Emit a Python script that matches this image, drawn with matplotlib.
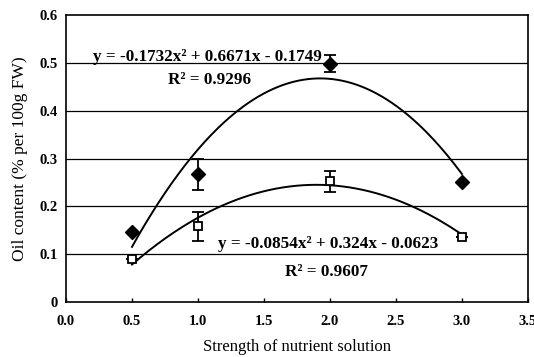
import matplotlib
matplotlib.use("Agg")
import matplotlib.pyplot as plt
import numpy as np

plt.rcParams['font.family'] = ['Liberation Serif', 'DejaVu Serif']

strength = [0.5, 1.0, 2.0, 3.0]
series_a = [0.146, 0.267, 0.498, 0.250]
err_a = [0.0, 0.033, 0.018, 0.0]
series_b = [0.090, 0.158, 0.252, 0.135]
err_b = [0.0, 0.031, 0.022, 0.0]
coef_a = [-0.1732, 0.6671, -0.1749]
coef_b = [-0.0854, 0.324, -0.0623]
eq_a = "y = -0.1732x² + 0.6671x - 0.1749"
r2_a = "R² = 0.9296"
eq_b = "y = -0.0854x² + 0.324x - 0.0623"
r2_b = "R² = 0.9607"
xticks = [0.0, 0.5, 1.0, 1.5, 2.0, 2.5, 3.0, 3.5]
xticklabels = ["0.0", "0.5", "1.0", "1.5", "2.0", "2.5", "3.0", "3.5"]
yticks = [0, 0.1, 0.2, 0.3, 0.4, 0.5, 0.6]
yticklabels = ["0", "0.1", "0.2", "0.3", "0.4", "0.5", "0.6"]

fig = plt.figure(figsize=(5.34, 3.57), dpi=100)
ax = fig.add_axes([0.1236, 0.154, 0.865, 0.804])

for yv in yticks[1:-1]:
    ax.axhline(yv, color='black', lw=0.9, zorder=1)

xs = np.linspace(strength[0], strength[-1], 200)
ax.plot(xs, np.polyval(coef_a, xs), color='black', lw=1.4, zorder=2)
ax.plot(xs, np.polyval(coef_b, xs), color='black', lw=1.4, zorder=2)

ax.errorbar(strength, series_a, yerr=err_a, fmt='D', color='black', ms=7,
            ecolor='black', elinewidth=1.3, capsize=4, capthick=1.3, zorder=3)
ax.errorbar(strength, series_b, yerr=err_b, fmt='s', mfc='white', mec='black',
            mew=1.3, ms=6, ecolor='black', elinewidth=1.3, capsize=4,
            capthick=1.3, zorder=3)

ax.set_xlim(0, 3.5)
ax.set_ylim(0, 0.6)
ax.set_xticks(xticks)
ax.set_xticklabels(xticklabels)
ax.set_yticks(yticks)
ax.set_yticklabels(yticklabels)
ax.tick_params(axis='x', direction='in', length=3, width=1, labelsize=10.5, pad=9)
ax.tick_params(axis='y', length=0, labelsize=10.5, pad=6)
for lab in ax.get_xticklabels() + ax.get_yticklabels():
    lab.set_fontweight('bold')
for s in ax.spines.values():
    s.set_linewidth(1.2)

ax.text(0.205, 0.512, eq_a, fontsize=12.3, fontweight='bold', ha='left', va='center')
ax.text(0.77, 0.464, r2_a, fontsize=12.3, fontweight='bold', ha='left', va='center')
ax.text(1.15, 0.121, eq_b, fontsize=12.3, fontweight='bold', ha='left', va='center')
ax.text(1.66, 0.063, r2_b, fontsize=12.3, fontweight='bold', ha='left', va='center')

ax.set_xlabel("Strength of nutrient solution", fontsize=12, labelpad=8)
ax.set_ylabel("Oil content (% per 100g FW)", fontsize=12.5, labelpad=8)

fig.savefig("out.png", dpi=100)
